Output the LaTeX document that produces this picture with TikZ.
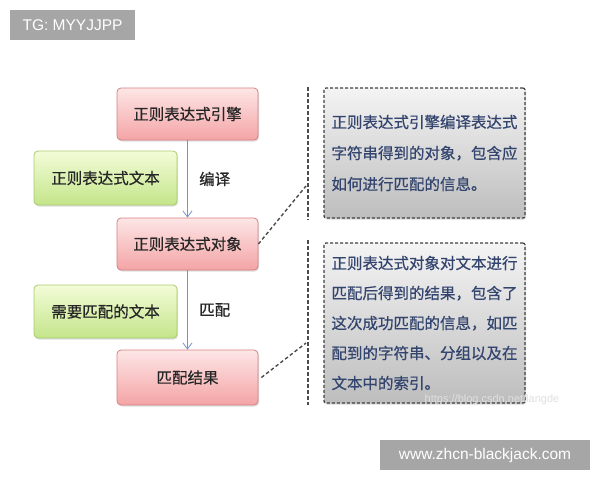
\documentclass[tikz,border=0pt]{standalone}
\usepackage{fontspec}
\setmainfont{Liberation Sans}
\newfontfamily\cjk[FakeBold=0.6]{Noto Sans CJK SC}
\usetikzlibrary{arrows.meta,shadows}
\definecolor{pinkTop}{HTML}{FDE6E6}
\definecolor{pinkBot}{HTML}{F4A4A6}
\definecolor{pinkLine}{HTML}{D98080}
\definecolor{greenTop}{HTML}{F3FCD8}
\definecolor{greenBot}{HTML}{C4E58A}
\definecolor{greenLine}{HTML}{A9CB6E}
\definecolor{grayTop}{HTML}{F4F4F4}
\definecolor{grayBot}{HTML}{BDBDBD}
\definecolor{noteText}{HTML}{33456E}
\definecolor{arrowBlue}{HTML}{7394CC}
\definecolor{tagGray}{HTML}{A6A6A6}
\tikzset{
  base/.style={rounded corners=4pt, font=\cjk\fontsize{15.5}{18}\selectfont, text=black!85, inner sep=0pt,
    drop shadow={opacity=0.25, shadow xshift=1pt, shadow yshift=-1.5pt}},
  redbox/.style={base, draw=pinkLine, line width=0.8pt, top color=pinkTop, bottom color=pinkBot,
    minimum width=141pt},
  greenbox/.style={base, draw=greenLine, line width=0.8pt, top color=greenTop, bottom color=greenBot,
    minimum width=143pt},
  notebox/.style={rounded corners=2pt, draw=black!75, line width=1.2pt, dash pattern=on 3pt off 2pt,
    top color=grayTop, bottom color=grayBot, minimum width=201pt, text width=186pt, align=left,
    text=noteText, inner sep=0pt,
    drop shadow={opacity=0.3, shadow xshift=1pt, shadow yshift=-1.5pt}},
  calloutline/.style={draw=black!70, line width=1.4pt, dash pattern=on 3.5pt off 2.5pt},
  flow/.style={draw=arrowBlue, line width=0.8pt, -{Straight Barb[length=6pt,width=9pt]}},
  lbl/.style={font=\cjk\fontsize{15.5}{18}\selectfont, text=black!85},
  tag/.style={fill=tagGray, text=white, inner sep=0pt, font=\fontsize{15.5}{18}\selectfont}
}
\begin{document}
\begin{tikzpicture}[x=1pt,y=-1pt]
\useasboundingbox (0,0) rectangle (600,480);
\fill[white] (0,0) rectangle (600,480);
% tags
\node[tag, minimum width=125pt, minimum height=30pt] (tg) at (72.5,25) {TG: MYYJJPP};
\node[tag, minimum width=210pt, minimum height=30pt] (site) at (485,455) {www.zhcn-blackjack.com};
% flow boxes
\node[redbox, minimum height=52pt] (engine) at (187.5,114) {正则表达式引擎};
\node[greenbox, minimum height=54pt] (retext) at (105.5,178) {正则表达式文本};
\node[redbox, minimum height=52pt] (obj) at (187.5,244) {正则表达式对象};
\node[greenbox, minimum height=53pt] (mtext) at (105.5,311.5) {需要匹配的文本};
\node[redbox, minimum height=55pt] (res) at (187.5,377.5) {匹配结果};
\draw[flow] (engine.south) -- (obj.north) node[midway, lbl, right=8pt] (compile) {编译};
\draw[flow] (obj.south) -- (res.north) node[midway, lbl, right=8pt] (match) {匹配};
% notes
\node[notebox, minimum height=130pt, font=\cjk\fontsize{15.5}{31}\selectfont] (note1) at (424.5,153)
  {正则表达式引擎编译表达式\\字符串得到的对象，包含应\\如何进行匹配的信息。};
\node[notebox, minimum height=160pt, font=\cjk\fontsize{15.5}{30}\selectfont] (note2) at (424.5,323)
  {正则表达式对象对文本进行\\匹配后得到的结果，包含了\\这次成功匹配的信息，如匹\\配到的字符串、分组以及在\\文本中的索引。};
% callouts
\coordinate (c1t) at (308,87);
\coordinate (c1b) at (308,220);
\coordinate (c1m) at (306,186);
\coordinate (c2t) at (308,240);
\coordinate (c2b) at (308,405);
\coordinate (c2m) at (306,343);
\draw[calloutline] (c1t) -- (c1b);
\draw[calloutline] (obj.east) -- (c1m);
\draw[calloutline] (c2t) -- (c2b);
\draw[calloutline] ([xshift=3pt]res.east) -- (c2m);
% watermark
\node[text=black!12, font=\fontsize{11}{13}\selectfont, inner sep=0pt] (wm) at (492,400) {https://blog.csdn.net/langde};
\end{tikzpicture}
\end{document}
